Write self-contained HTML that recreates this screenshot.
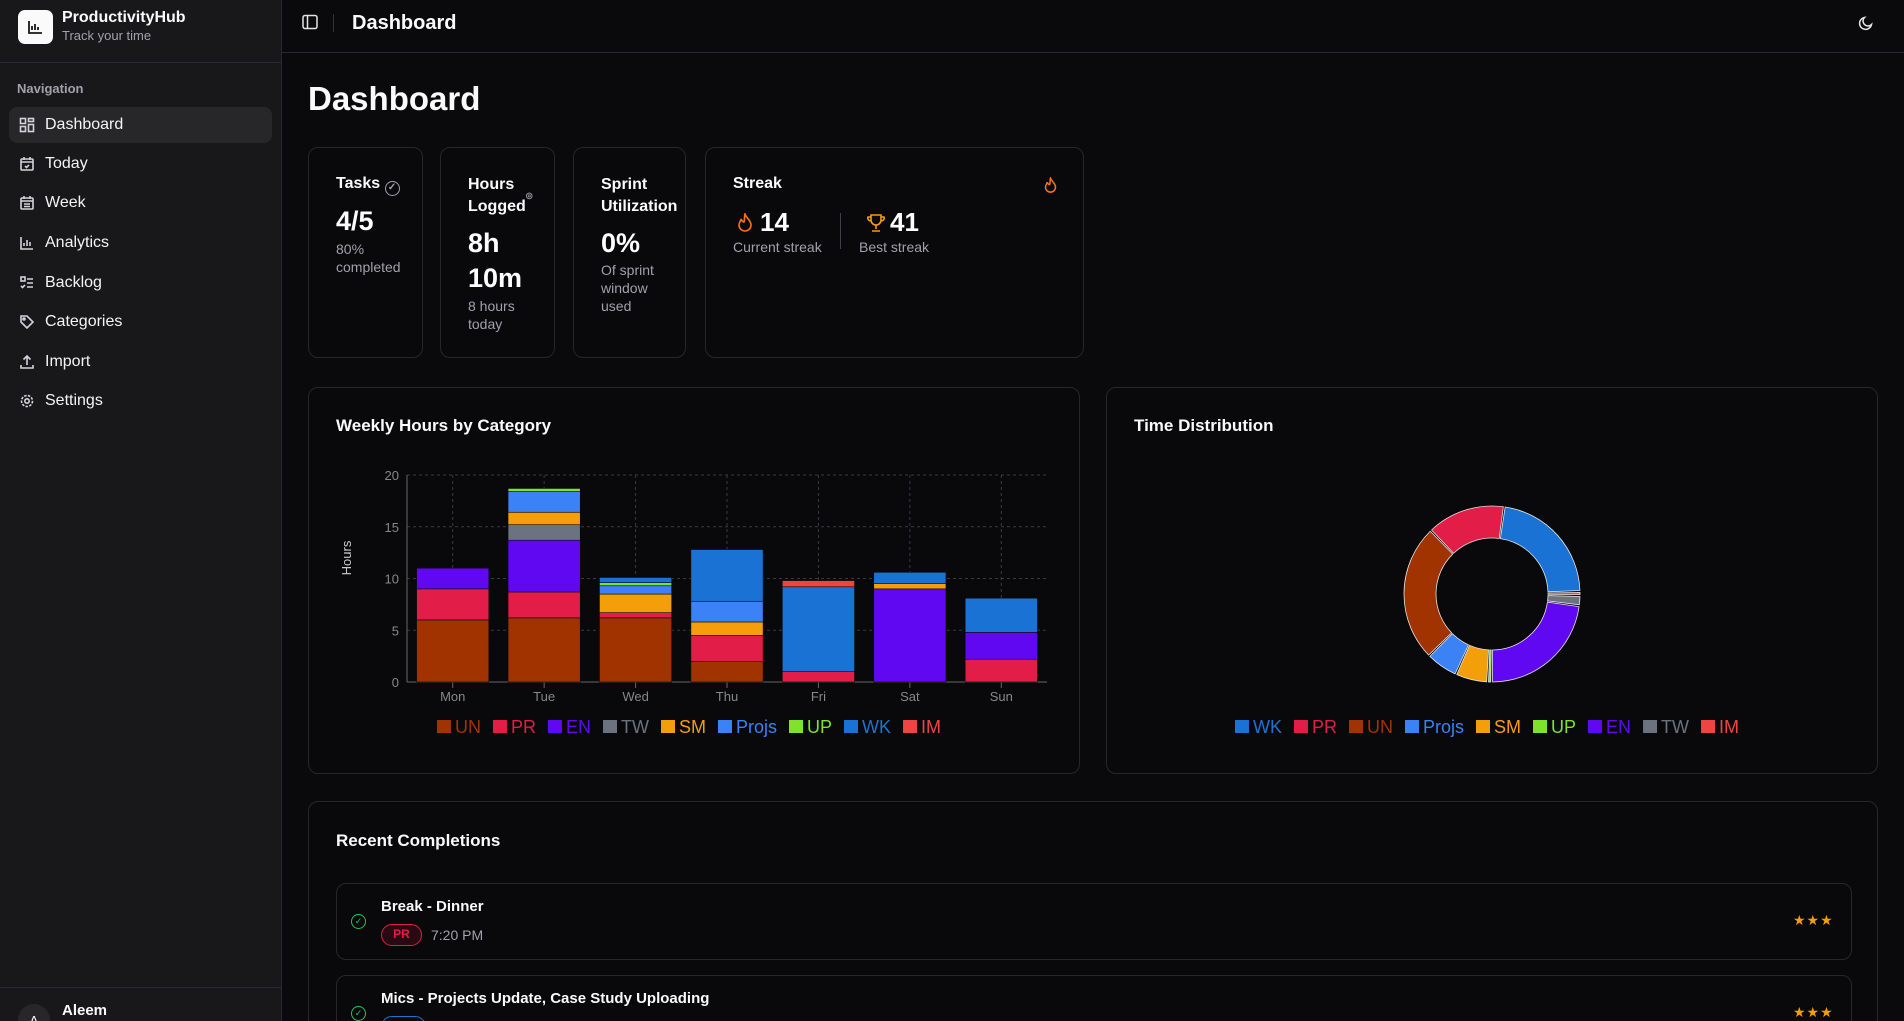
<!DOCTYPE html>
<html style="overflow:hidden;width:1904px;height:1021px"><head><meta charset="utf-8"><title>Dashboard</title>
<style>
*{box-sizing:border-box;margin:0;padding:0}
body{width:1904px;height:1021px;overflow:hidden;background:#0a0a0c;font-family:"Liberation Sans",sans-serif;color:#fafafa;position:relative}
.abs{position:absolute}
#sidebar{left:0;top:0;width:282px;height:1021px;background:#18181b;border-right:1px solid #2a2a2e}
.nav{position:absolute;left:9px;width:263px;height:36px;border-radius:8px;display:flex;align-items:center;padding-left:10px;font-size:16px;color:#f4f4f5}
.nav svg{width:16px;height:16px;margin-right:10px;stroke:#d4d4d8;fill:none;stroke-width:1.6}
.nav.active{background:#27272a}
.card{position:absolute;border:1px solid #27272a;border-radius:10px;background:#09090b}
.t{position:absolute;white-space:nowrap}
.lbl{font-size:16px;font-weight:700;color:#fafafa}
.big{font-size:27px;font-weight:700;color:#fff}
.sub{font-size:14px;color:#a1a1aa}
</style></head><body>
<div id="sidebar" class="abs">
 <div class="abs" style="left:18px;top:10px;width:35px;height:34px;background:#fafafa;border-radius:7px">
  <svg width="35" height="34" viewBox="0 0 35 34"><path d="M11 11v12h13M14 20v-4M17 20v-6M20 20v-3" stroke="#18181b" stroke-width="1.8" fill="none"/></svg>
 </div>
 <div class="t" style="left:62px;top:9px;font-size:16px;font-weight:700">ProductivityHub</div>
 <div class="t" style="left:62px;top:28px;font-size:13px;color:#a1a1aa">Track your time</div>
 <div class="abs" style="left:0;top:62px;width:281px;height:1px;background:#2a2a2e"></div>
 <div class="t" style="left:17px;top:81px;font-size:13px;color:#a1a1aa;font-weight:600">Navigation</div>
 <div class="nav active" style="top:107px"><svg viewBox="0 0 16 16"><rect x="1.5" y="1.5" width="5" height="5"/><rect x="9.5" y="1.5" width="5" height="3"/><rect x="1.5" y="9.5" width="5" height="5"/><rect x="9.5" y="7.5" width="5" height="7"/></svg>Dashboard</div>
 <div class="nav" style="top:146px"><svg viewBox="0 0 16 16"><rect x="2" y="3" width="12" height="11" rx="1"/><path d="M2 6h12M5 1v3M11 1v3M6 10l1.5 1.5L10 9"/></svg>Today</div>
 <div class="nav" style="top:185px"><svg viewBox="0 0 16 16"><rect x="2" y="3" width="12" height="11" rx="1"/><path d="M2 6h12M5 1v3M11 1v3M5 9h6M5 11.5h6"/></svg>Week</div>
 <div class="nav" style="top:225px"><svg viewBox="0 0 16 16"><path d="M2 2v12h12M5 11V8M8 11V5M11 11V7"/></svg>Analytics</div>
 <div class="nav" style="top:265px"><svg viewBox="0 0 16 16"><rect x="2" y="2" width="4" height="4"/><path d="M2 11l1.5 1.5L6 10M8 4h6M8 8h6M8 12h6"/></svg>Backlog</div>
 <div class="nav" style="top:304px"><svg viewBox="0 0 16 16"><path d="M2 8V2h6l6 6-6 6z"/><circle cx="5" cy="5" r="1"/></svg>Categories</div>
 <div class="nav" style="top:344px"><svg viewBox="0 0 16 16"><path d="M8 11V2M4.5 5.5L8 2l3.5 3.5M2 11v3h12v-3"/></svg>Import</div>
 <div class="nav" style="top:383px"><svg viewBox="0 0 16 16"><circle cx="8" cy="8" r="2.2"/><circle cx="8" cy="8" r="5.5" stroke-dasharray="2.5 1.3"/></svg>Settings</div>
 <div class="abs" style="left:0;top:987px;width:281px;height:1px;background:#2a2a2e"></div>
 <div class="abs" style="left:18px;top:1004px;width:32px;height:32px;border-radius:50%;background:#27272a;font-size:13px;text-align:center;line-height:34px">A</div>
 <div class="t" style="left:62px;top:1002px;font-size:15px;font-weight:700">Aleem</div>
</div>

<div class="abs" style="left:282px;top:0;width:1622px;height:53px;border-bottom:1px solid #2a2a2e">
 <svg class="abs" style="left:20px;top:14px" width="16" height="16" viewBox="0 0 16 16" fill="none" stroke="#e4e4e7" stroke-width="1.5"><rect x="1" y="1.5" width="14" height="13" rx="2"/><path d="M5.5 1.5v13"/></svg>
 <div class="abs" style="left:51px;top:14px;width:1px;height:18px;background:#333"></div>
 <div class="t" style="left:70px;top:12px;font-size:20px;font-weight:700">Dashboard</div>
 <svg class="abs" style="left:1576px;top:15px" width="16" height="16" viewBox="0 0 16 16" fill="none" stroke="#e4e4e7" stroke-width="1.5"><path d="M13.5 9.5A6 6 0 1 1 6.5 2.5a4.5 4.5 0 0 0 7 7z"/></svg>
</div>

<div class="t" style="left:308px;top:80px;font-size:33px;font-weight:700">Dashboard</div>

<!-- stat cards -->
<div class="card" style="left:308px;top:147px;width:115px;height:211px">
 <div class="t lbl" style="left:27px;top:27px">Tasks <span style="display:inline-block;width:15px;height:15px;border:1.5px solid #a1a1aa;border-radius:50%;font-size:10px;line-height:12px;text-align:center;color:#a1a1aa;vertical-align:-2px">✓</span></div>
 <div class="t big" style="left:27px;top:58px">4/5</div>
 <div class="t sub" style="left:27px;top:92px;line-height:18px">80%<br>completed</div>
</div>
<div class="card" style="left:440px;top:147px;width:115px;height:211px">
 <div class="t lbl" style="left:27px;top:26px;line-height:22px">Hours<br>Logged<span style="font-size:8px;color:#a1a1aa;line-height:0;vertical-align:top">◎</span></div>
 <div class="t big" style="left:27px;top:78px;line-height:35px">8h<br>10m</div>
 <div class="t sub" style="left:27px;top:149px;line-height:18px">8 hours<br>today</div>
</div>
<div class="card" style="left:573px;top:147px;width:113px;height:211px">
 <div class="t lbl" style="left:27px;top:26px;line-height:22px">Sprint<br>Utilization</div>
 <div class="t big" style="left:27px;top:80px">0%</div>
 <div class="t sub" style="left:27px;top:113px;line-height:18px">Of sprint<br>window<br>used</div>
</div>
<div class="card" style="left:705px;top:147px;width:379px;height:211px">
 <div class="t lbl" style="left:27px;top:27px">Streak</div>
 <svg class="abs" style="left:337px;top:29px" width="15" height="17" viewBox="0 0 18 20" fill="none" stroke="#f97316" stroke-width="1.8"><path d="M9 1c1 4 6 6 6 11a6 6 0 0 1-12 0c0-3 2-4 2-6 1 2 2 3 3 3 1-3 0-5 1-8z"/></svg>
 <svg class="abs" style="left:30px;top:65px" width="18" height="20" viewBox="0 0 18 20" fill="none" stroke="#f97316" stroke-width="1.6"><path d="M9 1c1 4 6 6 6 11a6 6 0 0 1-12 0c0-3 2-4 2-6 1 2 2 3 3 3 1-3 0-5 1-8z"/></svg>
 <div class="t big" style="left:54px;top:59px;font-size:26px">14</div>
 <div class="t sub" style="left:27px;top:91px">Current streak</div>
 <div class="abs" style="left:134px;top:65px;width:1px;height:36px;background:#3f3f46"></div>
 <svg class="abs" style="left:160px;top:65px" width="20" height="20" viewBox="0 0 20 20" fill="none" stroke="#f59e0b" stroke-width="1.6"><path d="M5 2h10v5a5 5 0 0 1-10 0zM5 4H2a3 3 0 0 0 3 4M15 4h3a3 3 0 0 1-3 4M10 12v4M6 18h8"/></svg>
 <div class="t big" style="left:184px;top:59px;font-size:26px">41</div>
 <div class="t sub" style="left:153px;top:91px">Best streak</div>
</div>

<!-- chart cards -->
<div class="card" style="left:308px;top:387px;width:772px;height:387px">
 <div class="t" style="left:27px;top:28px;font-size:17px;font-weight:700">Weekly Hours by Category</div>
</div>
<div class="card" style="left:1106px;top:387px;width:772px;height:387px">
 <div class="t" style="left:27px;top:28px;font-size:17px;font-weight:700">Time Distribution</div>
</div>

<svg id="charts" class="abs" style="left:0;top:0;pointer-events:none" width="1904" height="1021" font-family="Liberation Sans, sans-serif"></svg>

<!-- recent -->
<div class="card" style="left:308px;top:801px;width:1570px;height:260px">
 <div class="t" style="left:27px;top:29px;font-size:17px;font-weight:700">Recent Completions</div>
 <div class="card" style="left:27px;top:81px;width:1516px;height:77px">
  <div class="abs" style="left:14px;top:30px;width:15px;height:15px;border:1.5px solid #22c55e;border-radius:50%;color:#22c55e;font-size:9px;text-align:center;line-height:12px">✓</div>
  <div class="t" style="left:44px;top:14px;font-size:15px;font-weight:700">Break - Dinner</div>
  <div class="abs" style="left:44px;top:40px;width:41px;height:22px;border:1.5px solid #e11d48;border-radius:11px;background:#2a0a12;color:#e11d48;font-size:12px;font-weight:700;text-align:center;line-height:19px">PR</div>
  <div class="t" style="left:94px;top:43px;font-size:14px;color:#a1a1aa">7:20 PM</div>
  <div class="t" style="left:1456px;top:28px;color:#f59e0b;font-size:14px;letter-spacing:1px">★★★</div>
 </div>
 <div class="card" style="left:27px;top:173px;width:1516px;height:77px">
  <div class="abs" style="left:14px;top:30px;width:15px;height:15px;border:1.5px solid #22c55e;border-radius:50%;color:#22c55e;font-size:9px;text-align:center;line-height:12px">✓</div>
  <div class="t" style="left:44px;top:14px;font-size:15px;font-weight:700">Mics - Projects Update, Case Study Uploading</div>
  <div class="abs" style="left:44px;top:40px;width:45px;height:22px;border:1.5px solid #1976d2;border-radius:11px;color:#1976d2;font-size:12px;font-weight:700;text-align:center;line-height:19px">WK</div>
  <div class="t" style="left:98px;top:43px;font-size:14px;color:#a1a1aa">4:30 PM</div>
  <div class="t" style="left:1456px;top:28px;color:#f59e0b;font-size:14px;letter-spacing:1px">★★★</div>
 </div>
</div>

<script>
const days = ["Mon","Tue","Wed","Thu","Fri","Sat","Sun"];
const seriesNames = ["UN","PR","EN","TW","SM","Projs","UP","WK","IM"];
const seriesColors = ["#a03300","#e11d48","#6008f2","#6b7280","#f59e0b","#3b82f6","#7fe32b","#1a73d4","#ef4444"];
const UN = [6,6.2,6.2,2,0,0,0];
const PR = [3,2.5,0.5,2.5,1,0,2.2];
const EN = [2,5,0,0,0,9,2.6];
const TW = [0,1.5,0,0,0,0,0];
const SM = [0,1.2,1.8,1.3,0,0.5,0];
const Projs = [0,2,0.8,2,0,0,0];
const UP = [0,0.3,0.3,0,0,0,0];
const WK = [0,0,0.5,5,8.2,1.1,3.3];
const IM = [0,0,0,0,0.6,0,0];
const yTicks = [0,5,10,15,20];
const donutNames = ["WK","IM","TW","EN","UP","SM","Projs","UN","PR"];
const donutValues = [18.1,0.6,1.5,18.6,0.6,4.8,4.8,20.4,11.7];
const donutLegend = ["WK","PR","UN","Projs","SM","UP","EN","TW","IM"];

const NS="http://www.w3.org/2000/svg";
const svg=document.getElementById('charts');
function mk(tag,attrs,parent){const e=document.createElementNS(NS,tag);for(const k in attrs)e.setAttribute(k,attrs[k]);(parent||svg).appendChild(e);return e;}
const colorOf=n=>seriesColors[seriesNames.indexOf(n)];

// bar chart
const X0=407,X1=1047,Y0=682,Y1=475,YMAX=20;
const band=(X1-X0)/days.length;
const xPos=i=>X0+band*i+band/2;
const yPos=v=>Y0-(v/YMAX)*(Y0-Y1);
const g=mk('g',{});


yTicks.forEach(t=>{
  if(t>0){mk('line',{x1:X0,x2:X1,y1:yPos(t),y2:yPos(t),stroke:'#3a3a3f','stroke-dasharray':'3 3'},g);}
  const tx=mk('text',{x:X0-8,y:yPos(t)+5,'text-anchor':'end','font-size':13,fill:'#888'},g);tx.textContent=t;
  
  
});
days.forEach((d,i)=>{
  mk('line',{x1:xPos(i),x2:xPos(i),y1:Y1,y2:Y0,stroke:'#3a3a3f','stroke-dasharray':'3 3'},g);
  mk('line',{x1:xPos(i),x2:xPos(i),y1:Y0,y2:Y0+6,stroke:'#666'},g);
  const tx=mk('text',{x:xPos(i),y:Y0+19,'text-anchor':'middle','font-size':13,fill:'#888'},g);tx.textContent=d;
  
  
});
mk('line',{x1:X0,x2:X0,y1:Y1,y2:Y0,stroke:'#666'},g);
mk('line',{x1:X0,x2:X1,y1:Y0,y2:Y0,stroke:'#666'},g);
const yt=mk('text',{x:0,y:0,transform:'translate(351,558) rotate(-90)','text-anchor':'middle','font-size':13,fill:'#ccc'},g);yt.textContent='Hours';


const seriesData=[UN,PR,EN,TW,SM,Projs,UP,WK,IM];
const bw=band*0.79;
days.forEach((d,i)=>{
  let acc=0;
  seriesData.forEach((arr,s)=>{
    const v=arr[i]; if(!v) return;
    const r=mk('rect',{x:xPos(i)-bw/2,y:yPos(acc+v),width:bw,height:yPos(acc)-yPos(acc+v),fill:seriesColors[s],stroke:'#0a0a0c','stroke-width':0.6},g);
    
    
    acc+=v;
  });
});
function legend(names,cx,y){
  const lg=mk('g',{});
  
  
  const items=[];
  names.forEach(n=>{
    const e=mk('g',{},lg);
    
    
    const r=mk('rect',{y:y-7,width:14,height:13,fill:colorOf(n)},e);
    const t=mk('text',{y:y+6,'font-size':18,fill:colorOf(n)},e);t.textContent=n;
    items.push([r,t,t.getComputedTextLength()]);
  });
  const gap=12, sq=18;
  const total=items.reduce((a,it)=>a+sq+it[2],0)+gap*(items.length-1);
  let x=cx-total/2;
  items.forEach(it=>{it[0].setAttribute('x',x);it[1].setAttribute('x',x+sq);x+=sq+it[2]+gap;});
}
legend(seriesNames,689,727);

// donut
const CX=1492,CY=594,RO=88,RI=56;
const tot=donutValues.reduce((a,b)=>a+b,0);
const dg=mk('g',{});


let ang=8;
const pt=(a,r)=>[CX+r*Math.sin(a*Math.PI/180),CY-r*Math.cos(a*Math.PI/180)];
donutValues.forEach((v,i)=>{
  const sweep=v/tot*360;
  const a0=ang+0.6,a1=ang+sweep-0.6;
  ang+=sweep;
  if(a1<=a0) return;
  const large=(a1-a0)>180?1:0;
  const p0=pt(a0,RO),p1=pt(a1,RO),p2=pt(a1,RI),p3=pt(a0,RI);
  const p=mk('path',{d:`M${p0}A${RO},${RO} 0 ${large} 1 ${p1}L${p2}A${RI},${RI} 0 ${large} 0 ${p3}Z`,fill:colorOf(donutNames[i]),stroke:'#e5e5e5','stroke-width':0.8},dg);
  
  
});
legend(donutLegend,1487,727);
</script>
</body></html>
